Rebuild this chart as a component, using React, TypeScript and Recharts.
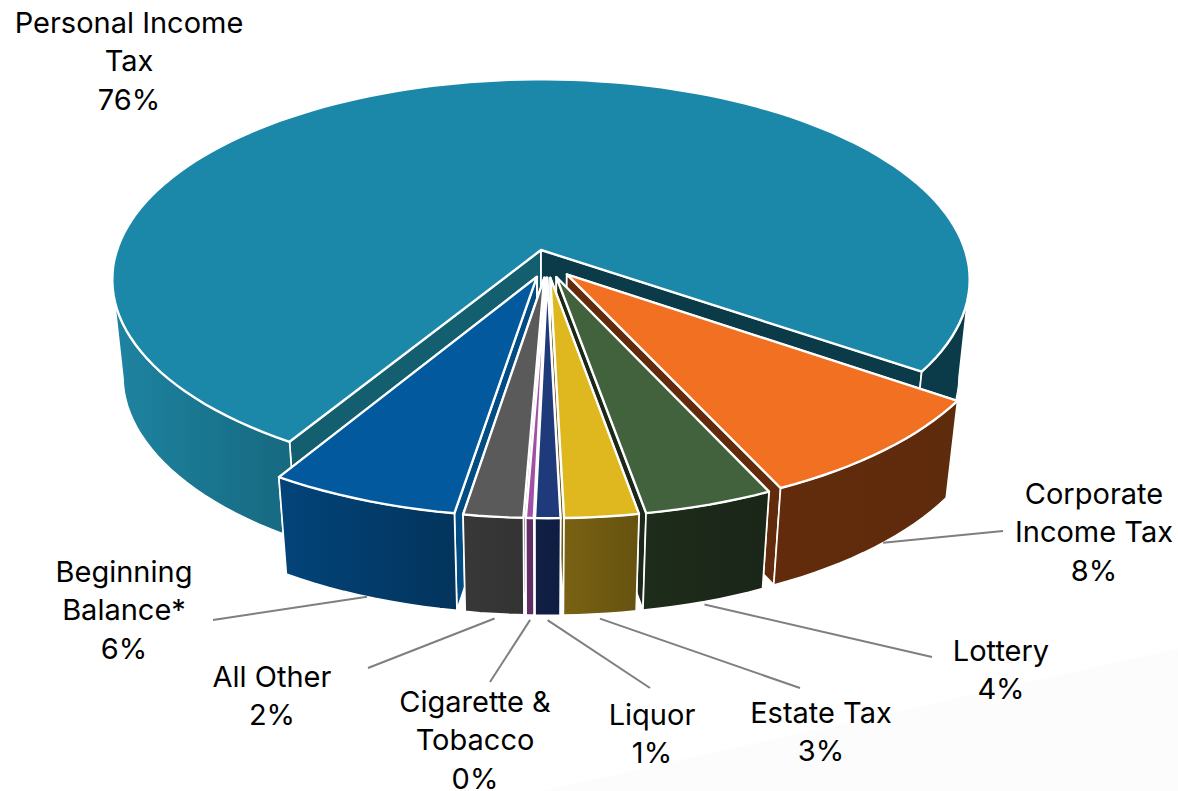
import { PieChart, Pie } from 'recharts'

const names = [
  'Personal Income Tax',
  'Corporate Income Tax',
  'Lottery',
  'Estate Tax',
  'Liquor',
  'Cigarette & Tobacco',
  'All Other',
  'Beginning Balance*',
]
// wedge sizes as they measure on the drawing
const shares = [76.0, 8.48, 4.15, 2.36, 0.8, 0.25, 1.9, 6.1]
// the percentages printed on the chart
const percents = ['76%', '8%', '4%', '3%', '1%', '0%', '2%', '6%']
const labelLines = [
  ['Personal Income', 'Tax'],
  ['Corporate', 'Income Tax'],
  ['Lottery'],
  ['Estate Tax'],
  ['Liquor'],
  ['Cigarette &', 'Tobacco'],
  ['All Other'],
  ['Beginning', 'Balance*'],
]

const data = names.map((name, i) => ({ name, value: shares[i], order: i }))

// colours per slice
const topColors = ['#1B88AA', '#F27022', '#42613D', '#DFB71E', '#1F3A7A', '#A24FA8', '#5A5A5A', '#02599E']
const cutColors = ['#135F70', '#622C0C', '#1B2819', '#6E5A12', '#101F45', '#5E2E63', '#363636', '#024C84']
const wallStops = [
  ['#1E84A2', '#16687E'],
  ['#622C0C', '#5E2B0C'],
  ['#1E2C1B', '#1A2618'],
  ['#7A6213', '#665210'],
  ['#111F45', '#101D42'],
  ['#642F69', '#5E2C63'],
  ['#383838', '#333333'],
  ['#02447A', '#03345C'],
]
const MAIN_DARK = '#0B3B49'

// back to front, so nearer slices cover the further ones
const drawOrder = [0, 1, 2, 3, 7, 6, 5, 4]
const START_ANGLE = 238.8
const EXPLODE = 0.07

// fake perspective for the disc, origin sits on the tip of the big slice
const SQUASH = 0.462
const PERSPECTIVE = 0.148
const SHRINK = 0.025
const DEPTH = 97

// label centre + where its leader line ends, page pixels
const labelPos = [
  { x: 129, y: 22 },
  { x: 1094, y: 493, lead: [1003, 531], z: 1.0, turn: 1.5 },
  { x: 1001, y: 650, lead: [932, 657], z: 1.03 },
  { x: 821, y: 712, lead: [800, 688], z: 1.05 },
  { x: 652, y: 714, lead: [650, 688], z: 1.05 },
  { x: 475, y: 701, lead: [490, 682], z: 1.05 },
  { x: 272, y: 676, lead: [368, 668], z: 1.05 },
  { x: 124, y: 571, lead: [213, 620], z: 1.0 },
]

const RAD = Math.PI / 180

function project(p: any, u: number, v: number, z: number) {
  const w = 1 - PERSPECTIVE * v
  return [
    p.cx + (p.outerRadius * u) / (w + SHRINK * z),
    p.cy + (p.outerRadius * SQUASH * v) / w + DEPTH * z,
  ]
}

function discPoint(angle: number, offset: number[]) {
  return [offset[0] + Math.cos(angle * RAD), offset[1] - Math.sin(angle * RAD)]
}

// every slice is pushed out along its bisector, relative to the big one
function sliceOffset(p: any) {
  const total = shares.reduce((a, b) => a + b, 0)
  const mainMid = START_ANGLE - (shares[0] / total) * 180
  const mid = (p.startAngle + p.endAngle) / 2
  return [
    EXPLODE * (Math.cos(mid * RAD) - Math.cos(mainMid * RAD)),
    -EXPLODE * (Math.sin(mid * RAD) - Math.sin(mainMid * RAD)),
  ]
}

function pathOf(points: number[][]) {
  return 'M' + points.map((q) => `${q[0].toFixed(1)},${q[1].toFixed(1)}`).join('L') + 'Z'
}

function arcAngles(p: any) {
  const steps = Math.max(2, Math.ceil(Math.abs(p.startAngle - p.endAngle) / 2))
  return Array.from({ length: steps + 1 }, (_, k) => p.startAngle + ((p.endAngle - p.startAngle) * k) / steps)
}

function Slice3D(p: any) {
  const i = p.payload?.order ?? p.order
  const off = sliceOffset(p)
  const angles = arcAngles(p)
  const at = (a: number, z: number) => {
    const d = discPoint(a, off)
    return project(p, d[0], d[1], z)
  }
  const apexTop = project(p, off[0], off[1], 0)
  const apexBottom = project(p, off[0], off[1], 1)
  const top = [apexTop, ...angles.map((a) => at(a, 0))]
  const wallOf = (arc: number[]) => [...arc.map((a) => at(a, 0)), ...arc.slice().reverse().map((a) => at(a, 1))]
  const cut = (a: number) => [apexTop, at(a, 0), at(a, 1), apexBottom]
  // big slice: only the two front stretches of its rim can be seen, one path
  // round the whole rim would cancel itself out near the widest points
  const walls =
    i === 0
      ? [
          { arc: angles.filter((a) => a >= 188), fill: 'url(#wall0)' },
          { arc: angles.filter((a) => a <= -8), fill: MAIN_DARK },
        ]
      : [{ arc: angles, fill: `url(#wall${i})` }]
  // the cut facing the viewer goes last
  const mid = (p.startAngle + p.endAngle) / 2
  const cuts = [
    { angle: p.startAngle, fill: cutColors[i] },
    { angle: p.endAngle, fill: i === 0 ? MAIN_DARK : cutColors[i] },
  ]
  if (i !== 0 && Math.cos(mid * RAD) < 0) cuts.reverse()
  return (
    <g>
      {cuts.map((c, k) => (
        <path key={k} d={pathOf(cut(c.angle))} fill={c.fill} stroke="#fff" strokeWidth={1.8} strokeLinejoin="round" />
      ))}
      {walls.map((w, k) => (
        <path key={k} d={pathOf(wallOf(w.arc))} fill={w.fill} stroke="#fff" strokeWidth={1.6} strokeLinejoin="round" />
      ))}
      <path d={pathOf(top)} fill={topColors[i]} stroke="#fff" strokeWidth={2.4} strokeLinejoin="round" />
    </g>
  )
}

function SliceLabel(p: any) {
  const i = p.payload?.order ?? p.order
  const pos: any = labelPos[i]
  const lines = [...labelLines[i], percents[i]]
  const off = sliceOffset(p)
  const d = discPoint((p.startAngle + p.endAngle) / 2 + (pos.turn ?? 0), off)
  const from = pos.lead ? project(p, d[0], d[1], pos.z) : null
  return (
    <g>
      {from && pos.lead && (
        <line x1={from[0]} y1={from[1]} x2={pos.lead[0]} y2={pos.lead[1]} stroke="#7F7F7F" strokeWidth={2} />
      )}
      {lines.map((t, k) => (
        <text
          key={t}
          x={pos.x}
          y={pos.y + k * 38.5}
          textAnchor="middle"
          dominantBaseline="central"
          fontFamily="Inter, 'Noto Sans', sans-serif"
          fontSize={29}
          fill="#000"
        >
          {t}
        </text>
      ))}
    </g>
  )
}

export default function App() {
  const pieProps = {
    data,
    dataKey: 'value',
    nameKey: 'name',
    cx: 541,
    cy: 250,
    outerRadius: 424,
    startAngle: START_ANGLE,
    endAngle: START_ANGLE - 360,
    stroke: 'none',
    isAnimationActive: false,
  }
  return (
    <div style={{ position: 'fixed', left: 0, top: 0, width: 1178, height: 791, background: '#fff' }}>
      <div
        style={{
          position: 'absolute',
          inset: 0,
          background: '#FCFCFC',
          clipPath: 'polygon(46% 100%, 100% 82%, 100% 100%)',
        }}
      />
      <PieChart
        width={1178}
        height={791}
        margin={{ top: 0, right: 0, bottom: 0, left: 0 }}
        style={{ position: 'absolute', left: 0, top: 0 }}
      >
        <defs>
          {wallStops.map((s, i) => (
            <linearGradient key={i} id={`wall${i}`} x1="0" y1="0" x2="1" y2="0">
              <stop offset="0" stopColor={s[0]} />
              <stop offset="1" stopColor={s[1]} />
            </linearGradient>
          ))}
        </defs>
        {drawOrder.map((slice) => (
          <Pie
            key={slice}
            {...pieProps}
            shape={(p: any) => ((p.payload?.order ?? p.order) === slice ? <Slice3D {...p} /> : <g />)}
          />
        ))}
        <Pie
          {...pieProps}
          fill="none"
          shape={() => <g />}
          label={(p: any) => <SliceLabel {...p} />}
          labelLine={false}
        />
      </PieChart>
    </div>
  )
}
